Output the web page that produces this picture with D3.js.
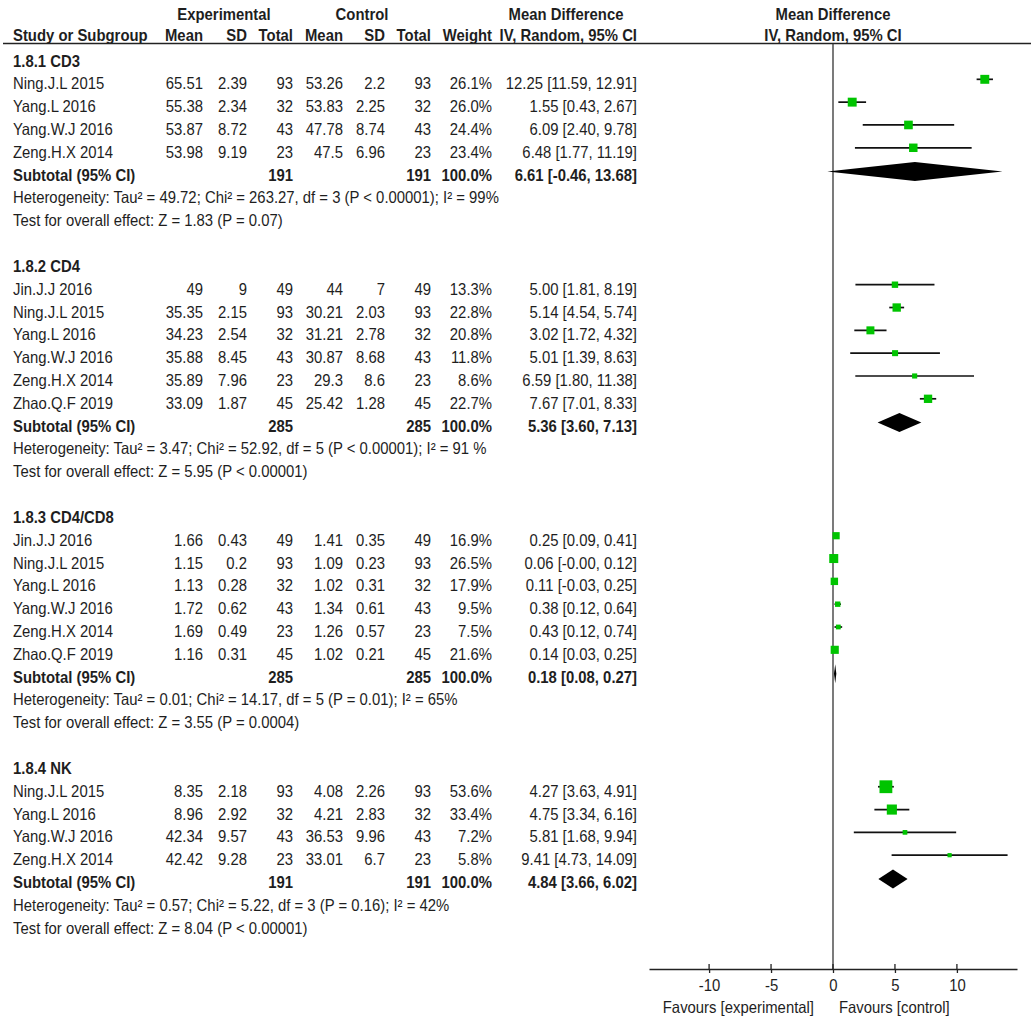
<!DOCTYPE html>
<html>
<head>
<meta charset="utf-8">
<script src="https://cdn.jsdelivr.net/npm/d3@7"></script>
<style>
  html, body { margin: 0; padding: 0; background: #fff; }
  #chart text { font-family: "Liberation Sans", Arial, sans-serif; font-size: 16px; fill: #1e1e1e; }
</style>
</head>
<body>
<div id="chart"></div>
<script>
// subgroups
const groupNames = ['1.8.1 CD3', '1.8.2 CD4', '1.8.3 CD4/CD8', '1.8.4 NK'];

// one entry per study row, groupOf says which subgroup it belongs to
const groupOf = [0, 0, 0, 0, 1, 1, 1, 1, 1, 1, 2, 2, 2, 2, 2, 2, 3, 3, 3, 3];
const studyNames = [
  'Ning.J.L 2015', 'Yang.L 2016', 'Yang.W.J 2016', 'Zeng.H.X 2014',
  'Jin.J.J 2016', 'Ning.J.L 2015', 'Yang.L 2016', 'Yang.W.J 2016', 'Zeng.H.X 2014', 'Zhao.Q.F 2019',
  'Jin.J.J 2016', 'Ning.J.L 2015', 'Yang.L 2016', 'Yang.W.J 2016', 'Zeng.H.X 2014', 'Zhao.Q.F 2019',
  'Ning.J.L 2015', 'Yang.L 2016', 'Yang.W.J 2016', 'Zeng.H.X 2014'
];
const expMean = [65.51, 55.38, 53.87, 53.98, 49, 35.35, 34.23, 35.88, 35.89, 33.09, 1.66, 1.15, 1.13, 1.72, 1.69, 1.16, 8.35, 8.96, 42.34, 42.42];
const expSD = [2.39, 2.34, 8.72, 9.19, 9, 2.15, 2.54, 8.45, 7.96, 1.87, 0.43, 0.2, 0.28, 0.62, 0.49, 0.31, 2.18, 2.92, 9.57, 9.28];
const expN = [93, 32, 43, 23, 49, 93, 32, 43, 23, 45, 49, 93, 32, 43, 23, 45, 93, 32, 43, 23];
const ctlMean = [53.26, 53.83, 47.78, 47.5, 44, 30.21, 31.21, 30.87, 29.3, 25.42, 1.41, 1.09, 1.02, 1.34, 1.26, 1.02, 4.08, 4.21, 36.53, 33.01];
const ctlSD = [2.2, 2.25, 8.74, 6.96, 7, 2.03, 2.78, 8.68, 8.6, 1.28, 0.35, 0.23, 0.31, 0.61, 0.57, 0.21, 2.26, 2.83, 9.96, 6.7];
const ctlN = [93, 32, 43, 23, 49, 93, 32, 43, 23, 45, 49, 93, 32, 43, 23, 45, 93, 32, 43, 23];
const weights = [26.1, 26.0, 24.4, 23.4, 13.3, 22.8, 20.8, 11.8, 8.6, 22.7, 16.9, 26.5, 17.9, 9.5, 7.5, 21.6, 53.6, 33.4, 7.2, 5.8];
const md = [12.25, 1.55, 6.09, 6.48, 5.00, 5.14, 3.02, 5.01, 6.59, 7.67, 0.25, 0.06, 0.11, 0.38, 0.43, 0.14, 4.27, 4.75, 5.81, 9.41];
const mdLow = [11.59, 0.43, 2.40, 1.77, 1.81, 4.54, 1.72, 1.39, 1.80, 7.01, 0.09, -0.004, -0.03, 0.12, 0.12, 0.03, 3.63, 3.34, 1.68, 4.73];
const mdHigh = [12.91, 2.67, 9.78, 11.19, 8.19, 5.74, 4.32, 8.63, 11.38, 8.33, 0.41, 0.12, 0.25, 0.64, 0.74, 0.25, 4.91, 6.16, 9.94, 14.09];

// subtotals
const subExpN = [191, 285, 285, 191];
const subCtlN = [191, 285, 285, 191];
const subMd = [6.61, 5.36, 0.18, 4.84];
const subLow = [-0.46, 3.60, 0.08, 3.66];
const subHigh = [13.68, 7.13, 0.27, 6.02];

// heterogeneity + overall effect
const tau2 = ['49.72', '3.47', '0.01', '0.57'];
const chi2 = ['263.27', '52.92', '14.17', '5.22'];
const chiDf = [3, 5, 5, 3];
const chiP = ['P < 0.00001', 'P < 0.00001', 'P = 0.01', 'P = 0.16'];
const iSq = ['99%', '91 %', '65%', '42%'];
const zVal = ['1.83', '5.95', '3.55', '8.04'];
const zP = ['P = 0.07', 'P < 0.00001', 'P = 0.0004', 'P < 0.00001'];

const axisTicks = [-10, -5, 0, 5, 10];
const axisDomain = [-14.85, 14.85];
const favourLeft = 'Favours [experimental]';
const favourRight = 'Favours [control]';

const width = 1031,
  height = 1023,
  sx = 0.93, // glyphs in the source are a bit narrow
  col = {
    label: 13,
    expMean: 203,
    expSD: 247,
    expN: 293,
    ctlMean: 343,
    ctlSD: 385,
    ctlN: 431,
    weight: 492,
    ci: 637,
  },
  markShift = -4.5,
  baseShift = 5.5;

const svg = d3
  .select('#chart')
  .append('svg')
  .attr('width', width)
  .attr('height', height);

const x = d3.scaleLinear().domain(axisDomain).range([649, 1017]);
const y = d3.scaleLinear().domain([0, 1]).range([61, 61 + 22.82]);

const addText = (px, py, str, opts = {}) => {
  const t = svg
    .append('text')
    .attr('transform', `translate(${px},${py}) scale(${sx},1.03)`)
    .attr('text-anchor', opts.anchor || 'start')
    .text(str);
  if (opts.bold) t.attr('font-weight', 'bold');
  return t;
};

const fmt2 = v => v.toFixed(2);
const ciText = (m, lo, hi) => `${fmt2(m)} [${fmt2(lo)}, ${fmt2(hi)}]`;

// headers
addText(224, 20, 'Experimental', { anchor: 'middle', bold: true });
addText(362, 20, 'Control', { anchor: 'middle', bold: true });
addText(566, 20, 'Mean Difference', { anchor: 'middle', bold: true });
addText(x(0), 20, 'Mean Difference', { anchor: 'middle', bold: true });

addText(col.label, 41, 'Study or Subgroup', { bold: true });
addText(col.expMean, 41, 'Mean', { anchor: 'end', bold: true });
addText(col.expSD, 41, 'SD', { anchor: 'end', bold: true });
addText(col.expN, 41, 'Total', { anchor: 'end', bold: true });
addText(col.ctlMean, 41, 'Mean', { anchor: 'end', bold: true });
addText(col.ctlSD, 41, 'SD', { anchor: 'end', bold: true });
addText(col.ctlN, 41, 'Total', { anchor: 'end', bold: true });
addText(col.weight, 41, 'Weight', { anchor: 'end', bold: true });
addText(col.ci, 41, 'IV, Random, 95% CI', { anchor: 'end', bold: true });
addText(x(0), 41, 'IV, Random, 95% CI', { anchor: 'middle', bold: true });

svg
  .append('line')
  .attr('x1', 3)
  .attr('x2', width)
  .attr('y1', 43.5)
  .attr('y2', 43.5)
  .attr('stroke', '#222')
  .attr('stroke-width', 1.5);

// null line
const axisY = 969;
svg
  .append('line')
  .attr('x1', x(0))
  .attr('x2', x(0))
  .attr('y1', 43.5)
  .attr('y2', axisY)
  .attr('stroke', '#333')
  .attr('stroke-width', 1.3);

const ink = svg.append('g').classed('ink', true);

let row = 0;
groupNames.forEach((gName, g) => {
  addText(col.label, y(row) + baseShift, gName, { bold: true });
  row++;

  d3.range(studyNames.length)
    .filter(i => groupOf[i] === g)
    .forEach(i => {
      const by = y(row) + baseShift;
      addText(col.label, by, studyNames[i]);
      addText(col.expMean, by, String(expMean[i]), { anchor: 'end' });
      addText(col.expSD, by, String(expSD[i]), { anchor: 'end' });
      addText(col.expN, by, String(expN[i]), { anchor: 'end' });
      addText(col.ctlMean, by, String(ctlMean[i]), { anchor: 'end' });
      addText(col.ctlSD, by, String(ctlSD[i]), { anchor: 'end' });
      addText(col.ctlN, by, String(ctlN[i]), { anchor: 'end' });
      addText(col.weight, by, weights[i].toFixed(1) + '%', { anchor: 'end' });
      addText(col.ci, by, ciText(md[i], mdLow[i], mdHigh[i]), { anchor: 'end' });

      const my = y(row) + markShift;
      const s = Math.max(3.5, 1.75 * Math.sqrt(weights[i]));
      ink
        .append('line')
        .attr('x1', x(mdLow[i]))
        .attr('x2', x(mdHigh[i]))
        .attr('y1', my)
        .attr('y2', my)
        .attr('stroke', '#111')
        .attr('stroke-width', 1.7);
      ink
        .append('rect')
        .attr('x', x(md[i]) - s / 2)
        .attr('y', my - s / 2)
        .attr('width', s)
        .attr('height', s)
        .attr('fill', '#00c400');
      row++;
    });

  // subtotal
  const by = y(row) + baseShift;
  addText(col.label, by, 'Subtotal (95% CI)', { bold: true });
  addText(col.expN, by, String(subExpN[g]), { anchor: 'end', bold: true });
  addText(col.ctlN, by, String(subCtlN[g]), { anchor: 'end', bold: true });
  addText(col.weight, by, '100.0%', { anchor: 'end', bold: true });
  addText(col.ci, by, ciText(subMd[g], subLow[g], subHigh[g]), { anchor: 'end', bold: true });

  const my = y(row) + markShift + 1;
  const dh = 9.5;
  ink
    .append('path')
    .attr(
      'd',
      `M${x(subLow[g])},${my}L${x(subMd[g])},${my - dh}L${x(subHigh[g])},${my}L${x(subMd[g])},${my + dh}Z`
    )
    .attr('fill', '#000');
  row++;

  addText(
    col.label,
    y(row) + baseShift,
    `Heterogeneity: Tau\u00b2 = ${tau2[g]}; Chi\u00b2 = ${chi2[g]}, df = ${chiDf[g]} (${chiP[g]}); I\u00b2 = ${iSq[g]}`
  );
  row++;
  addText(col.label, y(row) + baseShift, `Test for overall effect: Z = ${zVal[g]} (${zP[g]})`);
  row += 2;
});

// x axis, ticks go below; second set adds the short tick above the line
const axis = svg
  .append('g')
  .classed('x-axis', true)
  .attr('transform', `translate(0,${axisY})`)
  .call(
    d3
      .axisBottom(x)
      .tickValues(axisTicks)
      .tickFormat(d => String(d)) // plain hyphen, not the unicode minus
      .tickSize(4)
      .tickSizeOuter(0)
      .tickPadding(6)
  );
axis.attr('font-size', null).attr('font-family', null);
axis.select('.domain').attr('stroke', '#222').attr('stroke-width', 1.5);
axis.selectAll('.tick line').attr('stroke', '#222').attr('stroke-width', 1.3);
axis
  .selectAll('.tick text')
  .attr('fill', null)
  .attr('transform', `scale(${sx},1.03)`);

svg
  .append('g')
  .attr('transform', `translate(0,${axisY})`)
  .selectAll('line')
  .data(axisTicks)
  .enter()
  .append('line')
  .attr('x1', d => x(d))
  .attr('x2', d => x(d))
  .attr('y1', -5)
  .attr('y2', 0)
  .attr('stroke', '#222')
  .attr('stroke-width', 1.3);

addText(814, 1013, favourLeft, { anchor: 'end' });
addText(839, 1013, favourRight);
</script>
</body>
</html>
